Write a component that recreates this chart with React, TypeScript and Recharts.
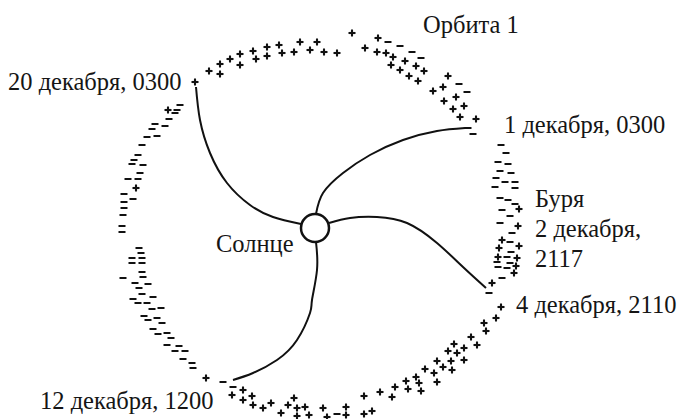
import React from "react";
import {
  ComposedChart,
  Line,
  ReferenceDot,
  Scatter,
  XAxis,
  YAxis,
} from "recharts";

// Sun-centred frame: x to the right, y upward (roughly pixels of the plate).
type Pt = { x: number; y: number };
const pts = (a: number[][]): Pt[] => a.map(([x, y]) => ({ x, y }));

// "+" readings along orbit 1
const plusMarks = pts([
  // top arc
  [-120, 146], [-106, 157], [-95, 164], [-95, 154], [-85, 169], [-75, 174],
  [-75, 163], [-62, 177], [-59, 169], [-48, 181], [-48, 172], [-36, 183],
  [-33, 175], [-21, 176], [-15, 186], [-5, 178], [2, 186], [9, 176],
  [22, 175], [37, 195], [50, 180], [63, 190], [62, 176], [71, 175],
  [78, 171], [90, 167], [76, 163], [85, 158], [94, 152], [101, 162],
  [109, 157], [103, 147], [133, 152], [128, 141], [118, 137], [141, 131],
  [129, 127], [149, 122], [138, 119], [145, 111], [161, 109],
  // right arc
  [204, 19], [203, 2], [187, -12], [204, -18], [184, -20], [183, -29],
  [202, -30], [201, -38], [199, -45], [177, -55],
  // bottom arc
  [-109, -150], [-83, -167], [-72, -162], [-63, -168], [-72, -172],
  [-62, -177], [-52, -180], [-44, -175], [-34, -185], [-27, -177],
  [-21, -170], [-18, -180], [-10, -179], [-18, -188], [-6, -187],
  [8, -180], [12, -189], [31, -179], [31, -187], [49, -168], [49, -186],
  [57, -183], [65, -164], [77, -169], [80, -159], [91, -153], [93, -161],
  [101, -149], [104, -155], [106, -163], [110, -141], [119, -145],
  [122, -154], [122, -133], [128, -139], [136, -133], [137, -142],
  [133, -123], [139, -116], [142, -125], [149, -120], [149, -132],
  [156, -109], [162, -117], [169, -95], [171, -103], [181, -90], [186, -79],
  // left arc
  [-147, 118], [-179, 40],
]);

// "−" readings along orbit 1
const minusMarks = pts([
  // top arc
  [73, 186], [85, 182], [97, 176], [106, 170], [144, 144], [152, 136],
  [153, 100], [158, 94],
  // right arc
  [186, 83], [191, 75], [183, 66], [193, 64], [185, 57], [196, 55],
  [181, 50], [190, 46], [200, 46], [180, 41], [200, 40], [185, 30],
  [193, 28], [200, 24], [187, 18], [195, 12], [185, 5], [197, -5],
  [195, -14], [196, -24], [192, -29], [182, -34], [195, -35], [183, -39],
  [192, -40], [187, -50], [174, -65],
  // bottom arc
  [-92, -154], [-82, -159], [22, -186],
  // left arc
  [-135, 123], [-138, 118], [-140, 115], [-146, 109], [-150, 102],
  [-160, 104], [-163, 99], [-158, 92], [-168, 91], [-173, 83], [-177, 73],
  [-181, 68], [-183, 64], [-172, 63], [-175, 55], [-187, 49], [-177, 49],
  [-191, 34], [-182, 29], [-191, 26], [-191, 20], [-192, 13], [-193, 2],
  [-193, -4], [-176, -20], [-174, -25], [-183, -30], [-173, -30],
  [-183, -35], [-173, -35], [-173, -44], [-172, -49], [-192, -50],
  [-180, -55], [-167, -56], [-176, -60], [-173, -66], [-182, -71],
  [-162, -69], [-177, -75], [-168, -75], [-163, -81], [-154, -80],
  [-171, -88], [-158, -90], [-167, -92], [-153, -95], [-162, -101],
  [-148, -105], [-157, -106], [-144, -110], [-148, -117], [-136, -118],
  [-140, -123], [-130, -123], [-132, -131], [-123, -135], [-122, -140],
]);

// field lines from the Sun to the orbit
const dec20Line = pts([[-14, 4], [-42, 11], [-65, 23], [-88, 45], [-105, 75], [-115, 108], [-119, 141]]);
const dec1Line = pts([[1, 14], [8, 35], [28, 55], [55, 73], [88, 88], [122, 97], [150, 100]]);
const dec4Line = pts([[14, 5], [35, 10], [62, 11], [92, 5], [122, -15], [148, -39], [171, -60]]);
const dec12Line = pts([[1, -14], [2, -42], [-3, -72], [-5, -85], [-18, -112], [-38, -132], [-62, -145], [-82, -152]]);

const labelTexts = [
  "Орбита 1",
  "20 декабря, 0300",
  "1 декабря, 0300",
  "Буря",
  "2 декабря,",
  "2117",
  "4 декабря, 2110",
  "Солнце",
  "12 декабря, 1200",
];
const labelX = [108, -307, 189, 220, 220, 220, 201, -99, -275];
const labelY = [195, 138, 95, 21, -9, -39, -85, -24, -181];

const labels = labelTexts.map((text, i) => ({ x: labelX[i], y: labelY[i], text }));

const FONT = "'Liberation Serif', 'Times New Roman', serif";

function PlusMark(props: any) {
  const { cx, cy } = props;
  if (cx == null || cy == null) return null;
  return (
    <g stroke="#111" strokeWidth={2.1}>
      <line x1={cx - 3.5} y1={cy} x2={cx + 3.5} y2={cy} />
      <line x1={cx} y1={cy - 3.5} x2={cx} y2={cy + 3.5} />
    </g>
  );
}

function MinusMark(props: any) {
  const { cx, cy } = props;
  if (cx == null || cy == null) return null;
  return <line x1={cx - 3.5} y1={cy} x2={cx + 3.5} y2={cy} stroke="#111" strokeWidth={2} />;
}

function TextMark(props: any) {
  const { cx, cy, payload } = props;
  if (cx == null || cy == null) return null;
  return (
    <text x={cx} y={cy} fill="#151515" fontSize={24.5} fontFamily={FONT}>
      {payload.text}
    </text>
  );
}

const curve = (data: Pt[], key: string) => (
  <Line
    key={key}
    data={data}
    dataKey="y"
    type="natural"
    stroke="#111"
    strokeWidth={2}
    dot={false}
    activeDot={false}
    isAnimationActive={false}
  />
);

export default function App() {
  return (
    <div style={{ position: "absolute", left: 0, top: 0, width: 683, height: 419, background: "#fff" }}>
      <ComposedChart width={683} height={419} margin={{ top: 0, right: 0, bottom: 0, left: 0 }}>
        <XAxis type="number" dataKey="x" domain={[-315, 368]} hide allowDataOverflow />
        <YAxis type="number" dataKey="y" domain={[-191, 228]} hide allowDataOverflow />
        {curve(dec20Line, "d20")}
        {curve(dec1Line, "d1")}
        {curve(dec4Line, "d4")}
        {curve(dec12Line, "d12")}
        <Scatter data={plusMarks} shape={PlusMark} isAnimationActive={false} />
        <Scatter data={minusMarks} shape={MinusMark} isAnimationActive={false} />
        <Scatter data={labels} shape={TextMark} isAnimationActive={false} />
        <ReferenceDot x={0} y={0} r={14} fill="#fff" stroke="#111" strokeWidth={2.5} />
      </ComposedChart>
    </div>
  );
}
